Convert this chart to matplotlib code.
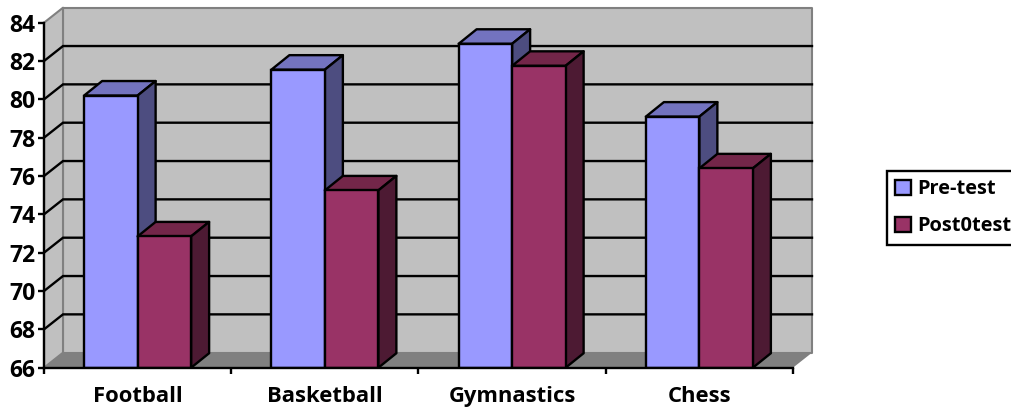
#!/usr/bin/env python3
"""Pre-test / post-test scores per sport, old Excel style 3D columns."""
import matplotlib
matplotlib.use('Agg')
import matplotlib.pyplot as plt
from matplotlib.patches import Patch, Polygon

categories = ['Football', 'Basketball', 'Gymnastics', 'Chess']
pre_test = [80.2, 81.55, 82.9, 79.1]
post_test = [72.85, 75.25, 81.75, 76.4]
y_ticks = list(range(66, 86, 2))

W, H = 1012, 409
plt.rcParams['font.family'] = ['Open Sans', 'DejaVu Sans']
plt.rcParams['font.weight'] = 'bold'

fig = plt.figure(figsize=(W / 100, H / 100), dpi=100)
# axes cover the front plane of the 3D box
left, right, top, bottom = 44, 793, 22.7, 367.7
ax = fig.add_axes([left / W, 1 - bottom / H, (right - left) / W, (bottom - top) / H])
ax.set_xlim(0, 4)
ax.set_ylim(66, 84)
ax.patch.set_visible(False)

# pixel sizes to data units
px = 4 / (right - left)
py = 18 / (bottom - top)
wall_dx, wall_dy = 19 * px, 15 * py
bar_dx, bar_dy = 18 * px, 14.5 * py
bar_w = 53.5 * px
lw = 1.7


def poly(pts, color, edge='none', lw=0, z=1):
    ax.add_patch(Polygon(pts, closed=True, facecolor=color, edgecolor=edge,
                         linewidth=lw, zorder=z, clip_on=False, joinstyle='round'))


# walls and floor
poly([(wall_dx, 66 + wall_dy), (4 + wall_dx, 66 + wall_dy), (4 + wall_dx, 84 + wall_dy), (wall_dx, 84 + wall_dy)],
     '#c0c0c0', '#808080', 1.5, 1)
poly([(0, 66), (wall_dx, 66 + wall_dy), (wall_dx, 84 + wall_dy), (0, 84)], '#c0c0c0', '#808080', 1.5, 1)
poly([(0, 66), (4, 66), (4 + wall_dx, 66 + wall_dy), (wall_dx, 66 + wall_dy)], '#808080', z=1.5)

# gridlines on the back wall, with the diagonal on the side wall
for t in y_ticks[1:-1]:
    ax.plot([0, wall_dx, 4 + wall_dx], [t, t + wall_dy, t + wall_dy], color='black', lw=lw,
            zorder=2, clip_on=False, solid_joinstyle='miter')


def bar3d(x, val, front, top_c, side_c, z):
    ax.bar(x, val - 66, bottom=66, width=bar_w, align='edge', color=front,
           edgecolor='black', linewidth=lw, zorder=z + 0.2)
    poly([(x, val), (x + bar_w, val), (x + bar_w + bar_dx, val + bar_dy), (x + bar_dx, val + bar_dy)],
         top_c, 'black', lw, z)
    poly([(x + bar_w, 66), (x + bar_w + bar_dx, 66 + bar_dy), (x + bar_w + bar_dx, val + bar_dy), (x + bar_w, val)],
         side_c, 'black', lw, z)


z = 3
for i, (a, b) in enumerate(zip(pre_test, post_test)):
    c = i + 0.5
    bar3d(c - bar_w, a, '#9999ff', '#7373bf', '#4d4d80', z)
    bar3d(c, b, '#993366', '#732649', '#4d1a33', z + 1)
    z += 2

for s in ['top', 'right']:
    ax.spines[s].set_visible(False)
for s in ['left', 'bottom']:
    ax.spines[s].set_linewidth(lw)
    ax.spines[s].set_zorder(20)

ax.set_yticks(y_ticks)
ax.tick_params(axis='y', length=4, width=lw, pad=2, labelsize=16.5)
ax.set_xticks(range(5))
ax.set_xticklabels([])
ax.tick_params(axis='x', length=4, width=lw)
for i, name in enumerate(categories):
    ax.annotate(name, (i + 0.5, 66), xytext=(0, -29), textcoords='offset pixels',
                ha='center', va='center', fontsize=15.8, fontweight='bold')

handles = [Patch(facecolor='#9999ff', edgecolor='black', linewidth=lw, label='Pre-test'),
           Patch(facecolor='#993366', edgecolor='black', linewidth=lw, label='Post0test')]
fig.legend(handles=handles, loc='upper left', bbox_to_anchor=(887 / W, 1 - 171 / H),
           bbox_transform=fig.transFigure, fancybox=False, framealpha=1, edgecolor='black',
           fontsize=14.4, handlelength=0.8, handleheight=0.8, handletextpad=0.3,
           labelspacing=0.85, borderaxespad=0, borderpad=0.42).get_frame().set_linewidth(lw)

fig.savefig('out.png', dpi=100)
plt.close(fig)
